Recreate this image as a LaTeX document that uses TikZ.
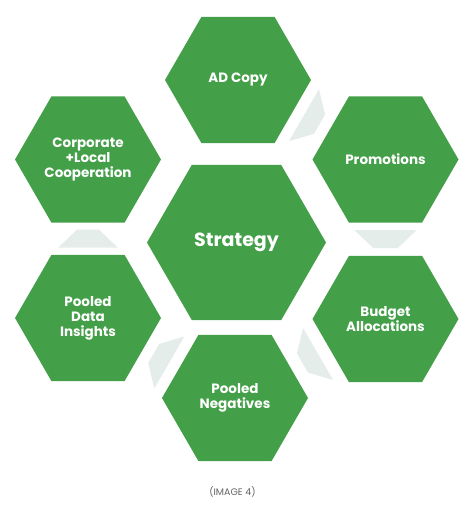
\documentclass[tikz,border=0pt]{standalone}
\usepackage{fontspec}
\setmainfont{Poppins}
\usetikzlibrary{shapes.geometric,calc}
\definecolor{hexgreen}{RGB}{67,159,72}
\definecolor{flowgray}{RGB}{229,237,234}
\definecolor{captiongray}{RGB}{100,100,100}
\tikzset{
  hexa/.style={regular polygon, regular polygon sides=6, fill=hexgreen, draw=none,
    inner sep=0pt, outer sep=0pt, minimum size=146pt, text=white, align=center,
    font=\bfseries\fontsize{13.5}{15}\selectfont},
  bighexa/.style={hexa, minimum size=179pt, font=\bfseries\fontsize{19}{22}\selectfont},
  flowshape/.style={fill=flowgray, draw=none},
  caption/.style={text=captiongray, font=\fontsize{9.5}{11}\selectfont, inner sep=0pt}
}
\begin{document}
\begin{tikzpicture}[x=1pt,y=1pt]
  \path[use as bounding box, fill=white] (0,0) rectangle (474,514);
  % hexagons
  \node[bighexa] (strat) at (236.5,271.5) {Strategy};
  \node[hexa] (ad)   at (238,434)   {AD Copy};
  \node[hexa] (prom) at (385.5,354.5) {Promotions};
  \node[hexa] (bud)  at (385.5,195) {Budget\\Allocations};
  \node[hexa] (pneg) at (235,116)   {Pooled\\Negatives};
  \node[hexa] (pdat) at (88,196)    {Pooled\\Data\\Insights};
  \node[hexa] (corp) at (88,354.5)  {Corporate\\+Local\\Cooperation};
  % flow connectors (trapezoids pointing clockwise)
  \coordinate (m1) at ($(ad)!0.5!(prom)$);
  \coordinate (m2) at ($(prom)!0.5!(bud)$);
  \coordinate (m3) at ($(bud)!0.5!(pneg)$);
  \coordinate (m4) at ($(pneg)!0.5!(pdat)$);
  \coordinate (m5) at ($(pdat)!0.5!(corp)$);
  \fill[flowshape, shift={(m1)}, rotate=-30]  (-9,30) -- (-9,-30) -- (9,-11) -- (9,11) -- cycle;
  \fill[flowshape, shift={(m2)}, rotate=-90]  (-9,31) -- (-9,-31) -- (9,-12) -- (9,12) -- cycle;
  \fill[flowshape, shift={(m3)}, rotate=-150] (-9,30) -- (-9,-30) -- (9,-11) -- (9,11) -- cycle;
  \fill[flowshape, shift={(m4)}, rotate=150]  (-9,30) -- (-9,-30) -- (9,-11) -- (9,11) -- cycle;
  \fill[flowshape, shift={(m5)}, rotate=90]   (-9,30) -- (-9,-30) -- (9,-11) -- (9,11) -- cycle;
  % caption
  \node[caption] (cap) at (232.5,22) {(IMAGE 4)};
\end{tikzpicture}
\end{document}
